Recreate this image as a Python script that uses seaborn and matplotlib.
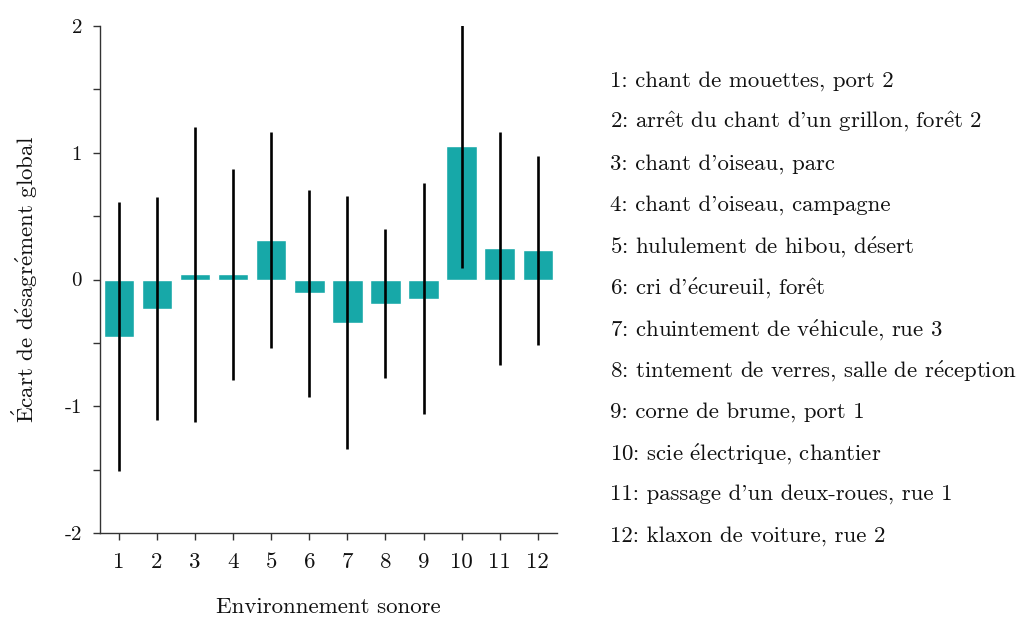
import matplotlib
matplotlib.use("Agg")
import matplotlib.pyplot as plt
import seaborn as sns
import numpy as np
import pandas as pd

# Mean global disagreement gap per sound environment and its error half-width
environments = ["1", "2", "3", "4", "5", "6", "7", "8", "9", "10", "11", "12"]
means = [-0.45, -0.23, 0.04, 0.04, 0.31, -0.11, -0.34, -0.19, -0.15, 1.055, 0.245, 0.23]
errors = [1.06, 0.88, 1.165, 0.835, 0.853, 0.817, 1.0, 0.585, 0.908, 0.966, 0.92, 0.745]

descriptions = [
    "chant de mouettes, port 2",
    "arrêt du chant d'un grillon, forêt 2",
    "chant d'oiseau, parc",
    "chant d'oiseau, campagne",
    "hululement de hibou, désert",
    "cri d'écureuil, forêt",
    "chuintement de véhicule, rue 3",
    "tintement de verres, salle de réception",
    "corne de brume, port 1",
    "scie électrique, chantier",
    "passage d'un deux-roues, rue 1",
    "klaxon de voiture, rue 2",
]

x_label = "Environnement sonore"
y_label = "Écart de désagrément global"

yticks = [-2, -1.5, -1, -0.5, 0, 0.5, 1, 1.5, 2]
ytick_labels = ["-2", "", "-1", "", "0", "", "1", "", "2"]

# cmr10 has no precomposed accented letters: typeset them as math accents
_ACCENTS = {
    "é": r"$\mathrm{\acute{e}}$",
    "ê": r"$\mathrm{\hat{e}}$",
    "É": r"$\mathrm{\acute{E}}$",
}


def tex(s):
    return "".join(_ACCENTS.get(c, c) for c in s)


sns.set_theme(style="ticks")
plt.rcParams["font.family"] = ["cmr10", "DejaVu Serif"]
plt.rcParams["axes.unicode_minus"] = False
plt.rcParams["mathtext.fontset"] = "cm"

df = pd.DataFrame({"env": environments, "mean": means})

fig = plt.figure(figsize=(10.22, 6.17), dpi=100)
ax = fig.add_axes([0.0978, 0.136, 0.447, 0.822])

bar_color = "#17a8a8"
sns.barplot(data=df, x="env", y="mean", color=bar_color, saturation=1,
            width=0.8, errorbar=None, ax=ax)
ax.errorbar(np.arange(len(environments)), means, yerr=errors, fmt="none",
            ecolor="black", elinewidth=1.9, capsize=0, zorder=3)

ax.set_ylim(-2, 2)
ax.set_xlim(-0.5, len(environments) - 0.5)
ax.set_yticks(yticks)
ax.set_yticklabels(ytick_labels)
ax.set_xticks(range(len(environments)))
ax.set_xticklabels(environments)

for side in ("top", "right"):
    ax.spines[side].set_visible(False)
for side in ("left", "bottom"):
    ax.spines[side].set_color("#333333")
    ax.spines[side].set_linewidth(1.0)
ax.tick_params(axis="both", direction="out", length=5, width=1.0,
               color="#333333", labelcolor="#111111")
ax.tick_params(axis="y", labelsize=15, pad=8)
ax.tick_params(axis="x", labelsize=16.5, pad=9)

ax.set_xlabel(tex(x_label), fontsize=16.5, labelpad=18, color="#111111")
ax.set_ylabel(tex(y_label), fontsize=16.5, labelpad=18, color="#111111")

# Key describing each numbered environment
y0_px, step_px = 81, 41.35
for i, desc in enumerate(descriptions):
    ypix = y0_px + i * step_px
    fig.text(610 / 1022, 1 - ypix / 617, tex(f"{i + 1}: {desc}"),
             fontsize=16.4, va="center", ha="left", color="#111111")

fig.savefig("out.png", dpi=100)
